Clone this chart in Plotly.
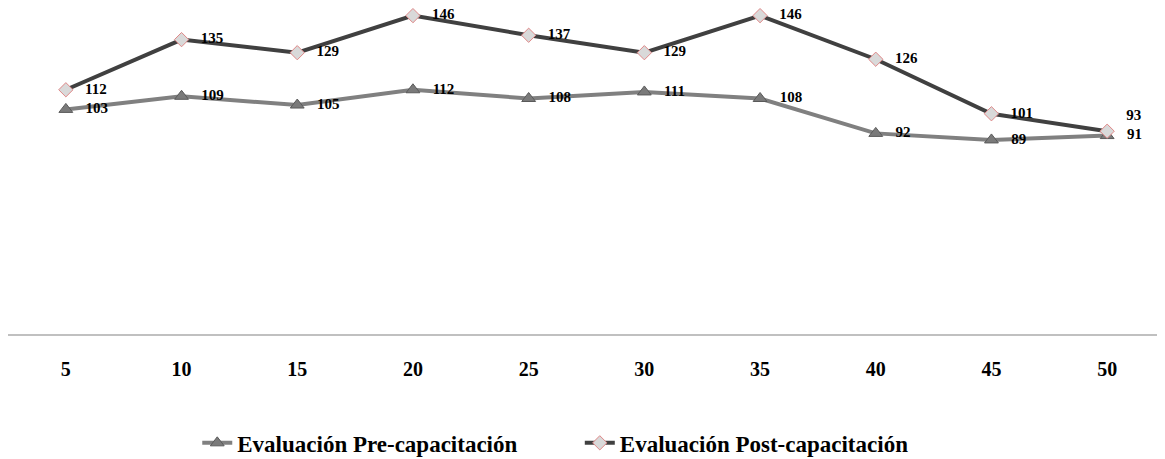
import plotly.graph_objects as go

categories = ["5", "10", "15", "20", "25", "30", "35", "40", "45", "50"]
pre_values = [103, 109, 105, 112, 108, 111, 108, 92, 89, 91]
post_values = [112, 135, 129, 146, 137, 129, 146, 126, 101, 93]
pre_name = "Evaluación Pre-capacitación"
post_name = "Evaluación Post-capacitación"

font_family = "Liberation Serif, Times New Roman, serif"
pad = "\u00a0\u00a0\u00a0"
legend_gap = "\u00a0" * 10

fig = go.Figure()
fig.add_trace(go.Scatter(
    x=categories, y=pre_values, name=f"<b>{pre_name}</b>{legend_gap}",
    mode="lines+markers+text",
    line=dict(color="#808080", width=4),
    marker=dict(symbol="triangle-up", size=12, color="#7a7a7a",
                line=dict(color="#5a5a5a", width=1)),
    text=[f"{pad}<b>{v}</b>" for v in pre_values],
    textposition="middle right",
    textfont=dict(family=font_family, size=15, color="black"),
    cliponaxis=False,
))
post_positions = ["middle right"] * (len(post_values) - 1) + ["top right"]
fig.add_trace(go.Scatter(
    x=categories, y=post_values, name=f"<b>{post_name}</b>",
    mode="lines+markers+text",
    line=dict(color="#404040", width=4),
    marker=dict(symbol="diamond", size=11, color="#d9d9d9",
                line=dict(color="#e08888", width=1)),
    text=[f"{pad}<b>{v}</b>" for v in post_values],
    textposition=post_positions,
    textfont=dict(family=font_family, size=15, color="black"),
    cliponaxis=False,
))

fig.update_layout(
    width=1157, height=451,
    margin=dict(l=0, r=0, t=0, b=125, autoexpand=False),
    paper_bgcolor="white", plot_bgcolor="white",
    font=dict(family=font_family, color="black"),
    showlegend=True,
    legend=dict(orientation="h", x=0.473, xanchor="center", y=-0.334, yanchor="middle",
                font=dict(family=font_family, size=23, color="black"),
                tracegroupgap=0),
    xaxis=dict(type="category", range=[-0.5, len(categories) - 0.5],
               showgrid=False, showline=True, linecolor="#c0c0c0",
               linewidth=2, ticks="", zeroline=False, automargin=False,
               tickfont=dict(family=font_family, size=20, color="black"),
               ticklabelstandoff=16,
               tickvals=categories, ticktext=[f"<b>{c}</b>" for c in categories]),
    yaxis=dict(range=[0, 149.5], showgrid=False, showticklabels=False, zeroline=False,
               showline=False, ticks="", automargin=False),
)

fig.write_html("out.html")
